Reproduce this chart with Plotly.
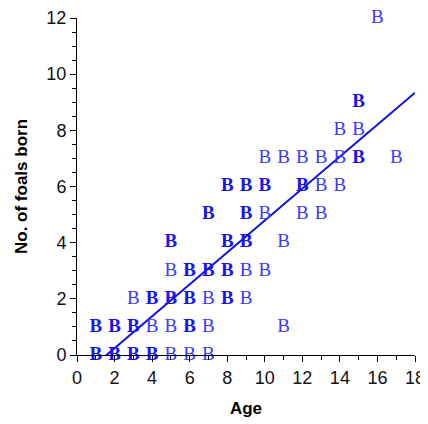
import numpy as np
import pandas as pd
import plotly.graph_objects as go

# Observations (age, number of foals born); repeated pairs are overlapping points
ages = [1, 1, 2, 2, 3, 3, 4, 4, 5, 6, 7,
        1, 1, 2, 2, 3, 3, 4, 5, 6, 6, 7, 11,
        3, 4, 4, 5, 5, 6, 6, 7, 8, 8, 9,
        5, 6, 6, 7, 7, 8, 8, 9, 10,
        5, 5, 8, 8, 9, 9, 11,
        7, 7, 9, 9, 10, 12, 13,
        8, 8, 9, 9, 10, 10, 12, 12, 13, 14,
        10, 11, 12, 13, 14, 15, 15, 17,
        14, 15,
        15, 15,
        16]
foals = [0] * 11 + [1] * 12 + [2] * 11 + [3] * 9 + [4] * 7 + [5] * 7 + [6] * 10 + [7] * 8 + [8] * 2 + [9] * 2 + [12]

x_ticks = [0, 2, 4, 6, 8, 10, 12, 14, 16, 18]
y_ticks = [0, 2, 4, 6, 8, 10, 12]

df = pd.DataFrame({"age": ages, "foals": foals})
grp = df.groupby(["age", "foals"]).size().reset_index(name="n")
single = grp[grp["n"] == 1]
multi = grp[grp["n"] > 1]

slope, intercept = np.polyfit(df["age"], df["foals"], 1)
line_x = np.array([x_ticks[0], x_ticks[-1]], dtype=float)
line_y = intercept + slope * line_x

fig = go.Figure()
fig.add_trace(go.Scatter(x=line_x, y=line_y, mode="lines",
                         line=dict(color="#1010e0", width=2), showlegend=False))
fig.add_trace(go.Scatter(x=single["age"], y=single["foals"], mode="text", text=["B"] * len(single),
                         textfont=dict(family="Liberation Serif", size=19, color="#3a3aff"),
                         cliponaxis=False, showlegend=False))
fig.add_trace(go.Scatter(x=multi["age"], y=multi["foals"], mode="text", text=["B"] * len(multi),
                         textfont=dict(family="Liberation Serif", size=19, color="#1515f0", weight="bold"),
                         cliponaxis=False, showlegend=False))

axis_common = dict(showline=True, linecolor="black", linewidth=1, ticks="outside", ticklen=6,
                   tickcolor="black", showgrid=False, zeroline=False, automargin=False,
                   tickfont=dict(family="Liberation Sans", size=18, color="#111"))
fig.update_xaxes(range=[0, 18], tickvals=x_ticks, **axis_common,
                 minor=dict(dtick=1, ticks="outside", ticklen=4, tickcolor="black"),
                 title=dict(text="<b>Age</b>", font=dict(family="Liberation Sans", size=17, color="black"), standoff=15))
fig.update_yaxes(range=[0, 12], tickvals=y_ticks, **axis_common,
                 minor=dict(dtick=0.5, ticks="outside", ticklen=4, tickcolor="black"),
                 title=dict(text="<b>No. of foals born</b>", font=dict(family="Liberation Sans", size=17, color="black"), standoff=14))
# page body adds an 8px offset, so the figure is sized to fit the remaining window
fig.update_layout(template="none", width=420, height=416, margin=dict(l=69, r=13, t=10, b=69),
                  plot_bgcolor="white", paper_bgcolor="white")
fig.write_html("out.html")
